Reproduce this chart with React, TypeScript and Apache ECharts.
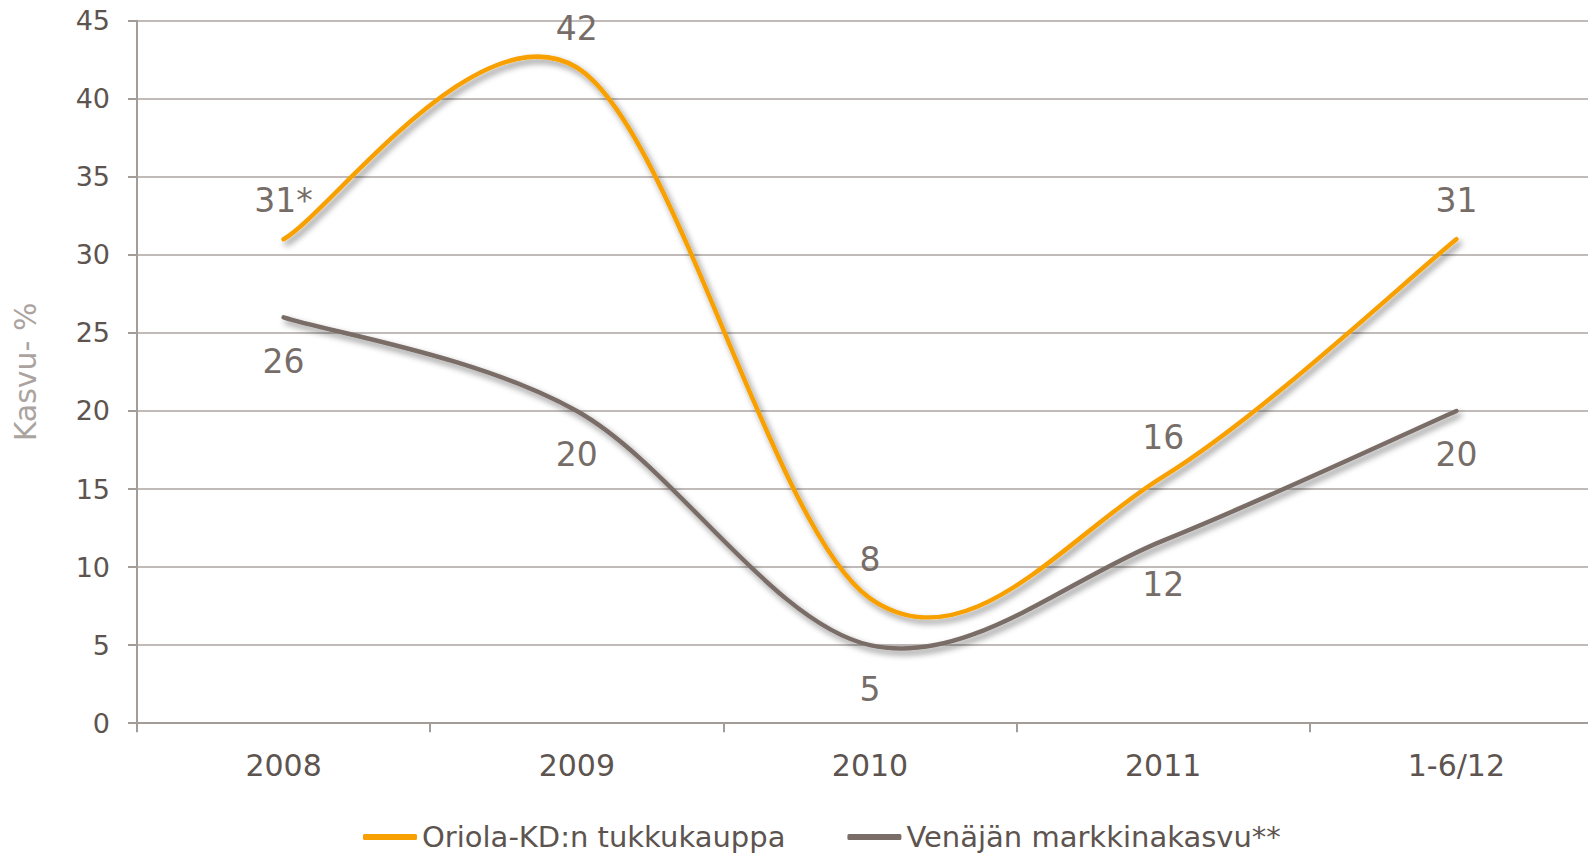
import React, { useEffect, useRef } from "react";
import * as echarts from "echarts";

const categories = ["2008", "2009", "2010", "2011", "1-6/12"];
const oriolaValues = [31, 42, 8, 15.8, 31];
const oriolaLabels = ["31*", "42", "8", "16", "31"];
const russiaValues = [26, 20, 5, 11.7, 20];
const russiaLabels = ["26", "20", "5", "12", "20"];
const yTicks = { min: 0, max: 45, interval: 5 };

const seriesNames = ["Oriola-KD:n tukkukauppa", "Venäjän markkinakasvu**"];
const FONT = "'DejaVu Sans', sans-serif";
const ORANGE = "#f7a000";
const GREY = "#7a6d67";

// Excel-like smoothed line (Catmull-Rom style cubic Bezier, tension 1/6)
function smoothRenderer(values: number[], color: string) {
  return (params: any, api: any) => {
    if (params.dataIndex !== 0) return { type: "group", children: [] };
    const pts = values.map((v, i) => api.coord([i, v]));
    const n = pts.length;
    const P = (i: number) => pts[Math.max(0, Math.min(n - 1, i))];
    let d = `M${pts[0][0]},${pts[0][1]}`;
    for (let i = 0; i < n - 1; i++) {
      const p0 = P(i - 1), p1 = P(i), p2 = P(i + 1), p3 = P(i + 2);
      const c1x = p1[0] + (p2[0] - p0[0]) / 6;
      const c1y = p1[1] + (p2[1] - p0[1]) / 6;
      const c2x = p2[0] - (p3[0] - p1[0]) / 6;
      const c2y = p2[1] - (p3[1] - p1[1]) / 6;
      d += ` C${c1x},${c1y} ${c2x},${c2y} ${p2[0]},${p2[1]}`;
    }
    return {
      type: "path",
      shape: { pathData: d },
      style: {
        fill: "none",
        stroke: color,
        lineWidth: 4.5,
        lineCap: "round",
        lineJoin: "round",
        shadowColor: "rgba(0,0,0,0.45)",
        shadowBlur: 6,
        shadowOffsetX: 3,
        shadowOffsetY: 4,
      },
    };
  };
}

export default function App() {
  const ref = useRef<HTMLDivElement>(null);
  useEffect(() => {
    if (!ref.current) return;
    const chart = echarts.init(ref.current, undefined, { renderer: "svg" });
    const gridColor = "#aba5a1";
    const axisColor = "#a39d99";
    const textColor = "#5d5450";
    const labelColor = "#776d68";
    const labelSeries = (name: string, values: number[], labels: string[], pos: string, dist: number) => ({
      name,
      type: "line",
      symbol: "circle",
      symbolSize: 1,
      showSymbol: true,
      z: 5,
      itemStyle: { color: "rgba(0,0,0,0)" },
      lineStyle: { width: 0, opacity: 0 },
      label: {
        show: true,
        position: pos,
        distance: dist,
        fontSize: 33,
        color: labelColor,
        fontFamily: FONT,
        formatter: (p: any) => labels[p.dataIndex],
      },
      data: values,
    });
    chart.setOption({
      animation: false,
      textStyle: { fontFamily: FONT },
      grid: {
        left: 137,
        top: 20.7,
        width: 1466,
        height: 702.5,
        containLabel: false,
        outerBoundsMode: "none",
      },
      legend: {
        left: 363,
        top: 822,
        padding: 0,
        itemWidth: 54,
        itemHeight: 6,
        itemGap: 62,
        icon: "roundRect",
        textStyle: { fontSize: 29, lineHeight: 30, color: textColor, fontFamily: FONT },
        data: seriesNames,
      },
      xAxis: {
        type: "category",
        data: categories,
        boundaryGap: true,
        axisLine: { show: true, lineStyle: { color: axisColor, width: 2 } },
        axisTick: { show: true, length: 9, alignWithLabel: false, lineStyle: { color: axisColor, width: 2 } },
        axisLabel: { fontSize: 30, color: textColor, margin: 27, fontFamily: FONT },
        splitLine: { show: false },
      },
      yAxis: {
        type: "value",
        min: yTicks.min,
        max: yTicks.max,
        interval: yTicks.interval,
        name: "Kasvu- %",
        nameLocation: "middle",
        nameGap: 97,
        nameRotate: 90,
        nameTextStyle: { fontSize: 30, color: "#aba39f", fontFamily: FONT },
        axisLine: { show: true, lineStyle: { color: axisColor, width: 2 } },
        axisTick: { show: true, length: 9, lineStyle: { color: axisColor, width: 2 } },
        axisLabel: { fontSize: 27, color: textColor, margin: 27, fontFamily: FONT },
        splitLine: { show: true, lineStyle: { color: gridColor, width: 1.5 } },
      },
      series: [
        {
          name: seriesNames[0],
          type: "custom",
          itemStyle: { color: ORANGE },
          renderItem: smoothRenderer(oriolaValues, ORANGE),
          encode: { x: 0, y: 1 },
          data: oriolaValues.map((v, i) => [i, v]),
          z: 3,
        },
        {
          name: seriesNames[1],
          type: "custom",
          itemStyle: { color: GREY },
          renderItem: smoothRenderer(russiaValues, GREY),
          encode: { x: 0, y: 1 },
          data: russiaValues.map((v, i) => [i, v]),
          z: 2,
        },
        labelSeries("lblOriola", oriolaValues, oriolaLabels, "top", 22),
        labelSeries("lblRussia", russiaValues, russiaLabels, "bottom", 27),
      ],
    });
    return () => chart.dispose();
  }, []);
  return (
    <div
      ref={ref}
      style={{ position: "fixed", left: 0, top: 0, width: 1588, height: 853, background: "#fff" }}
    />
  );
}
